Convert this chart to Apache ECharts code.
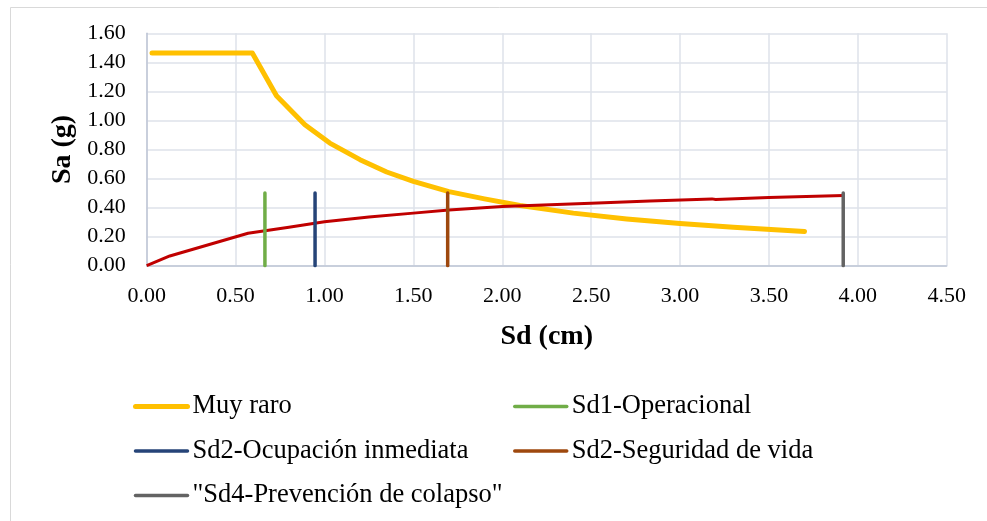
<!DOCTYPE html>
<html>
<head>
<meta charset="utf-8">
<script src="https://cdn.jsdelivr.net/npm/echarts@6/dist/echarts.min.js"></script>
<style>html,body{margin:0;padding:0;background:#fff;}#c{width:987px;height:521px;}</style>
</head>
<body>
<div id="c"></div>
<script>
// Muy raro spectrum (Sd cm, Sa g)
const muyRaroSd = [0.03, 0.594, 0.73, 0.89, 1.03, 1.2, 1.35, 1.5, 1.7, 1.9, 2.1, 2.4, 2.7, 3.0, 3.3, 3.7];
const muyRaroSa = [1.465, 1.465, 1.17, 0.97, 0.844, 0.73, 0.645, 0.58, 0.51, 0.46, 0.415, 0.362, 0.322, 0.29, 0.265, 0.235];
// capacity curve (red)
const capSd = [0, 0.13, 0.57, 0.8, 1.0, 1.25, 1.5, 1.7, 2.0, 2.5, 2.83, 3.18, 3.2, 3.5, 3.92];
const capSa = [0, 0.067, 0.223, 0.265, 0.302, 0.335, 0.362, 0.384, 0.407, 0.43, 0.446, 0.46, 0.456, 0.47, 0.483];
// performance level markers
const levelNames = ['Sd1-Operacional', 'Sd2-Ocupación inmediata', 'Sd2-Seguridad de vida', '"Sd4-Prevención de colapso"'];
const levelSd = [0.665, 0.947, 1.693, 3.918];
const levelTop = [0.50, 0.50, 0.50, 0.50];
const levelColors = ['#70AD47', '#264478', '#9E480E', '#636363'];

const zip = (a, b) => a.map((v, i) => [v, b[i]]);
const serif = '"Liberation Serif", "Times New Roman", serif';

const series = [
  {name: 'Muy raro', type: 'line', data: zip(muyRaroSd, muyRaroSa), symbol: 'none', z: 3,
   lineStyle: {color: '#FFC000', width: 5, cap: 'round', join: 'round'}, itemStyle: {color: '#FFC000'}},
  {name: 'capacidad', type: 'line', data: zip(capSd, capSa), symbol: 'none', z: 4,
   lineStyle: {color: '#C00000', width: 3, join: 'round'}, itemStyle: {color: '#C00000'}}
];
levelNames.forEach((n, i) => {
  series.push({name: n, type: 'line', data: [[levelSd[i], 0], [levelSd[i], levelTop[i]]], symbol: 'none', z: 5,
    lineStyle: {color: levelColors[i], width: 3.5, cap: 'round'}, itemStyle: {color: levelColors[i]}});
});

const legendText = {fontFamily: serif, fontSize: 26.5, color: '#000'};
const legendCommon = {orient: 'vertical', top: 393, itemWidth: 52, itemHeight: 14, itemGap: 17.5,
  textStyle: legendText, padding: 0, lineStyle: {width: 3.5, cap: 'round'},
  itemStyle: {opacity: 0, color: 'rgba(0,0,0,0)', borderWidth: 0}};
const legItem = (n, w) => ({name: n, lineStyle: {width: w}});
const chart = echarts.init(document.getElementById('c'));
chart.setOption({
  animation: false,
  backgroundColor: '#fff',
  textStyle: {fontFamily: serif},
  graphic: [{type: 'rect', left: 8, top: 5, shape: {width: 1000, height: 540},
    style: {fill: 'none', stroke: '#d9d9d9', lineWidth: 1}, silent: true}],
  grid: {left: 146.7, top: 33.3, right: 40.3, bottom: 255.3},
  legend: [
    Object.assign({data: [legItem('Muy raro', 5), legItem(levelNames[1], 3.5), legItem(levelNames[3], 3.5)], left: 133}, legendCommon),
    Object.assign({data: [legItem(levelNames[0], 3.5), legItem(levelNames[2], 3.5)], left: 513}, legendCommon)
  ],
  xAxis: {type: 'value', min: 0, max: 4.5, interval: 0.5,
    name: 'Sd (cm)', nameLocation: 'middle', nameGap: 57,
    nameTextStyle: {fontFamily: serif, fontSize: 28, fontWeight: 'bold', color: '#000'},
    axisLine: {lineStyle: {color: '#BFC6D6', width: 1.5}}, axisTick: {show: false},
    splitLine: {show: true, lineStyle: {color: '#DEE2EA', width: 1.5}},
    axisLabel: {fontFamily: serif, fontSize: 22, color: '#000', margin: 20, formatter: v => v.toFixed(2)}},
  yAxis: {type: 'value', min: 0, max: 1.6, interval: 0.2,
    name: 'Sa (g)', nameLocation: 'middle', nameGap: 69,
    nameTextStyle: {fontFamily: serif, fontSize: 28, fontWeight: 'bold', color: '#000'},
    axisLine: {show: true, lineStyle: {color: '#BFC6D6', width: 1.5}}, axisTick: {show: false},
    splitLine: {show: true, lineStyle: {color: '#DEE2EA', width: 1.5}},
    axisLabel: {fontFamily: serif, fontSize: 22, color: '#000', margin: 21, formatter: v => v.toFixed(2)}},
  series: series
});
</script>
</body>
</html>
